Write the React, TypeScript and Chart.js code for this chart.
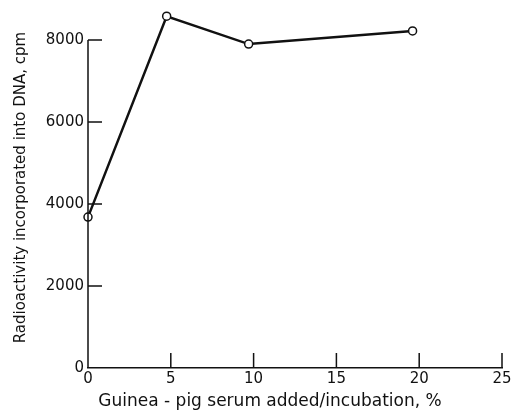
import React, { useEffect, useRef } from "react";
import { Chart, registerables } from "chart.js";

Chart.register(...registerables);

// Serum concentration (%) and DNA-incorporated radioactivity (cpm)
const serumPercent = [0, 4.75, 9.7, 19.6];
const radioactivityCpm = [3680, 8580, 7900, 8220];

const xTickValues = [0, 5, 10, 15, 20, 25];
const yTickValues = [0, 2000, 4000, 6000, 8000];

const xAxisTitle = "Guinea - pig serum added/incubation, %";
const yAxisTitle = "Radioactivity incorporated into DNA, cpm";

const FONT = "'DejaVu Sans', sans-serif";
const INK = "#111111";

// Left axis line (only up to the last labelled tick), inward tick marks
// and the bottom axis title
const axisDecor = {
  id: "axisDecor",
  afterDraw(chart: any) {
    const { ctx, chartArea } = chart;
    const xs = chart.scales.x;
    const ys = chart.scales.y;
    const yTop = ys.getPixelForValue(yTickValues[yTickValues.length - 1]);
    const yBottom = ys.getPixelForValue(yTickValues[0]);
    ctx.save();
    ctx.strokeStyle = INK;
    ctx.lineWidth = 1.5;
    ctx.beginPath();
    ctx.moveTo(chartArea.left, yTop);
    ctx.lineTo(chartArea.left, yBottom);
    yTickValues.forEach((v) => {
      if (v === 0) return;
      const py = ys.getPixelForValue(v);
      ctx.moveTo(chartArea.left, py);
      ctx.lineTo(chartArea.left + 14, py);
    });
    xTickValues.forEach((v) => {
      if (v === 0) return;
      const px = xs.getPixelForValue(v);
      ctx.moveTo(px, chartArea.bottom);
      ctx.lineTo(px, chartArea.bottom - 15);
    });
    ctx.stroke();

    ctx.fillStyle = INK;
    ctx.font = `17px ${FONT}`;
    ctx.textAlign = "center";
    ctx.textBaseline = "middle";
    ctx.fillText(xAxisTitle, 270, 402);
    ctx.restore();
  },
};

export default function App() {
  const canvasRef = useRef<HTMLCanvasElement | null>(null);

  useEffect(() => {
    const canvas = canvasRef.current;
    if (!canvas) return;
    const chart = new Chart(canvas, {
      type: "line",
      data: {
        datasets: [
          {
            data: serumPercent.map((x, i) => ({ x, y: radioactivityCpm[i] })),
            borderColor: INK,
            borderWidth: 2.5,
            pointRadius: 4,
            pointBorderWidth: 1.5,
            pointBackgroundColor: "#ffffff",
            pointBorderColor: INK,
            clip: false as any,
            tension: 0,
          },
        ],
      },
      options: {
        responsive: false,
        animation: false,
        events: [],
        layout: { padding: { top: 7.2, left: 0, right: 9, bottom: 0 } },
        plugins: {
          legend: { display: false },
          tooltip: { enabled: false },
        },
        scales: {
          x: {
            type: "linear",
            position: "bottom",
            min: 0,
            max: 25,
            afterBuildTicks: (s: any) => {
              s.ticks = xTickValues.map((value) => ({ value }));
            },
            afterFit: (s: any) => {
              s.height = 43;
              s.paddingLeft = 0;
              s.paddingRight = 0;
            },
            grid: { display: false, drawTicks: false },
            border: { display: true, color: INK, width: 1.5 },
            ticks: {
              color: INK,
              font: { family: FONT, size: 15 },
              padding: 2,
              maxRotation: 0,
              autoSkip: false,
              callback: (v: any) => String(v),
            },
          },
          y: {
            type: "linear",
            position: "left",
            min: 0,
            max: 8800,
            afterBuildTicks: (s: any) => {
              s.ticks = yTickValues.map((value) => ({ value }));
            },
            afterFit: (s: any) => {
              s.width = 88;
              s.paddingTop = 0;
              s.paddingBottom = 0;
            },
            grid: { display: false, drawTicks: false },
            border: { display: false },
            ticks: {
              color: INK,
              font: { family: FONT, size: 15 },
              padding: 4,
              autoSkip: false,
              callback: (v: any) => String(v),
            },
            title: {
              display: true,
              text: yAxisTitle,
              color: INK,
              font: { family: FONT, size: 15 },
              padding: { top: 12, bottom: 0 },
            },
          },
        },
      },
      plugins: [axisDecor],
    });
    return () => chart.destroy();
  }, []);

  return (
    <div style={{ position: "fixed", left: 0, top: 0, width: 511, height: 411, background: "#fff" }}>
      <canvas ref={canvasRef} width={511} height={411} />
    </div>
  );
}
